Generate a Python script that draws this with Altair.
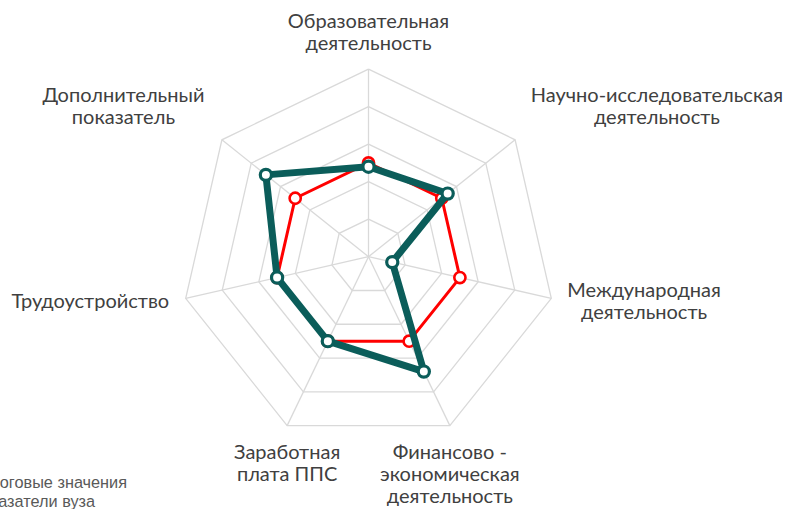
import math
import altair as alt
import pandas as pd

# ---------------- data ----------------
categories = [
    "Образовательная\nдеятельность",
    "Научно-исследовательская\nдеятельность",
    "Международная\nдеятельность",
    "Финансово -\nэкономическая\nдеятельность",
    "Заработная\nплата ППС",
    "Трудоустройство",
    "Дополнительный\nпоказатель",
]
series_names = ["Пороговые значения", "Показатели вуза"]
threshold_values = [50, 50, 50, 50, 50, 50, 50]
university_values = [48, 54, 13, 68, 50, 50, 70]
grid_levels = [20, 40, 60, 80, 100]
series_colors = ["#ff0000", "#0b5d5a"]

# ---------------- layout ----------------
W, H = 790, 509
CX, CY, RPX = 368.5, 256.7, 187.5      # centre and outer radius (px)
U = RPX / 100.0                         # px per value unit
x_dom = [-CX / U, (W - CX) / U]
y_dom = [-(H - CY) / U, CY / U]
xs = alt.Scale(domain=x_dom, range=[0, W], nice=False, zero=False)
ys = alt.Scale(domain=y_dom, range=[H, 0], nice=False, zero=False)

n = len(categories)
ang = [2 * math.pi * i / n for i in range(n)]


def polar(v, a):
    return v * math.sin(a), v * math.cos(a)


# approximate Lato glyph widths (em) for centring multi-line labels
_W = {
    "а": .50, "б": .54, "в": .50, "г": .42, "д": .56, "е": .52, "ж": .75, "з": .46,
    "и": .58, "й": .58, "к": .52, "л": .56, "м": .70, "н": .57, "о": .55, "п": .57,
    "р": .55, "с": .44, "т": .46, "у": .50, "ф": .75, "х": .50, "ц": .59, "ч": .53,
    "ш": .82, "щ": .84, "ъ": .60, "ы": .76, "ь": .52, "э": .47, "ю": .77, "я": .52,
    "Д": .70, "М": .83, "Н": .71, "О": .77, "Т": .55, "Ф": .80, "З": .55, "П": .70,
    "С": .62, " ": .19, "-": .33,
}
FS = 20
LH = 22


def text_w(s):
    return sum(_W.get(ch, .6) for ch in s) * FS


# grid rings
ring_rows = []
for lv in grid_levels:
    for k in range(n + 1):
        x, y = polar(lv, ang[k % n])
        ring_rows.append({"ring": lv, "k": k, "x": x, "y": y})
rings = pd.DataFrame(ring_rows)

spoke_rows = []
for i in range(n):
    x, y = polar(100, ang[i])
    spoke_rows.append({"x": 0.0, "y": 0.0, "x2": x, "y2": y})
spokes = pd.DataFrame(spoke_rows)

# series
ser_rows = []
for s, vals in zip(series_names, [threshold_values, university_values]):
    for k in range(n + 1):
        i = k % n
        x, y = polar(vals[i], ang[i])
        ser_rows.append({"series": s, "k": k, "x": x, "y": y, "cat": categories[i]})
ser = pd.DataFrame(ser_rows)

# category labels: one row per line, block placed next to the outer vertex
GAP = 18
lab_rows = []
for i, c in enumerate(categories):
    lines = c.split("\n")
    m = len(lines)
    vx, vy = polar(100, ang[i])
    vxp, vyp = CX + vx * U, CY - vy * U          # vertex in px
    sa, ca = math.sin(ang[i]), math.cos(ang[i])
    bw = max(text_w(l) for l in lines)
    if abs(sa) < 0.5:
        cxp = vxp
    elif sa > 0:
        cxp = vxp + GAP + bw / 2
    else:
        cxp = vxp - GAP - bw / 2
    if ca > 0.9:
        first = vyp - 19 - LH * (m - 1)
    elif ca > 0.3:
        first = vyp - 16 - LH * (m - 1)
    elif ca > -0.3:
        first = vyp + 2.5 - LH * (m - 1) / 2 + 7.2
    else:
        first = vyp + 33.7
    for j, l in enumerate(lines):
        bp = first + j * LH
        lab_rows.append({"x": (cxp - CX) / U, "y": (CY - bp) / U, "label": l})
labels = pd.DataFrame(lab_rows)

X = lambda: alt.X("x:Q", scale=xs, axis=None)
Y = lambda: alt.Y("y:Q", scale=ys, axis=None)

ring_layer = alt.Chart(rings).mark_line(color="#d9d9d9", strokeWidth=1.3).encode(
    x=X(), y=Y(), detail="ring:N", order="k:Q"
)
spoke_layer = alt.Chart(spokes).mark_rule(color="#d9d9d9", strokeWidth=1.3).encode(
    x=X(), y=Y(), x2="x2:Q", y2="y2:Q"
)

layers = [ring_layer, spoke_layer]
widths = [3, 7]
pstroke = [2.6, 3.2]
for s, col, w, pw in zip(series_names, series_colors, widths, pstroke):
    d = ser[ser["series"] == s]
    layers.append(
        alt.Chart(d).mark_line(color=col, strokeWidth=w, strokeJoin="round").encode(
            x=X(), y=Y(), order="k:Q"
        )
    )
    layers.append(
        alt.Chart(d[d["k"] < n]).mark_point(
            shape="circle", filled=True, fill="white", stroke=col,
            strokeWidth=pw, size=125, opacity=1
        ).encode(x=X(), y=Y())
    )

layers.append(
    alt.Chart(labels).mark_text(
        align="center", baseline="alphabetic", font="Lato", fontSize=FS,
        color="#404040"
    ).encode(x=X(), y=Y(), text="label:N")
)

# legend (cut by the left edge as in the reference)
leg = pd.DataFrame({
    "label": series_names,
    "x": [x_dom[0] - 30 / U] * 2,
    "y": [(CY - 488) / U, (CY - 507) / U],
})
layers.append(
    alt.Chart(leg).mark_text(
        align="left", baseline="alphabetic", font="Liberation Sans",
        fontSize=16.3, color="#595959"
    ).encode(x=X(), y=Y(), text="label:N")
)

chart = alt.layer(*layers).properties(
    width=W, height=H, padding=0,
    autosize=alt.AutoSizeParams(type="none"),
).configure_view(stroke=None)

chart.save("out.html", embed_options={"renderer": "svg", "actions": False})
